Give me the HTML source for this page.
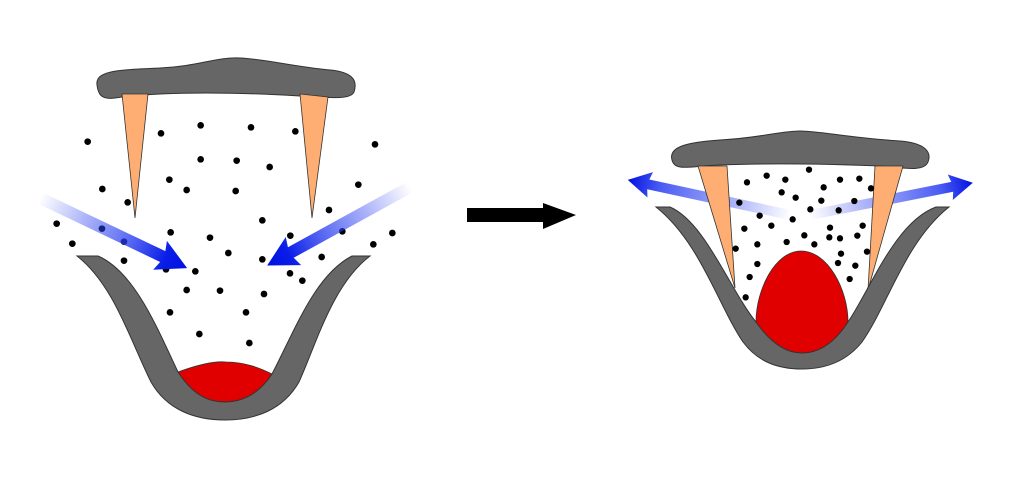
<!DOCTYPE html>
<html><head><meta charset="utf-8"><style>html,body{margin:0;padding:0;background:#fff}svg{display:block}</style></head>
<body>
<svg width="1024" height="477" viewBox="0 0 1024 477" xmlns="http://www.w3.org/2000/svg">
<defs>
<linearGradient id="gA" gradientUnits="userSpaceOnUse" x1="0" y1="0" x2="163" y2="0">
<stop offset="0" stop-color="#2a3ff0" stop-opacity="0"/><stop offset="0.55" stop-color="#2a3ff0" stop-opacity="0.7"/><stop offset="0.85" stop-color="#0a1ee8"/><stop offset="1" stop-color="#0010e0"/></linearGradient>
<linearGradient id="gB" gradientUnits="userSpaceOnUse" x1="0" y1="0" x2="166" y2="0">
<stop offset="0" stop-color="#2a3ff0" stop-opacity="0"/><stop offset="0.3" stop-color="#2a3ff0" stop-opacity="0.35"/><stop offset="0.8" stop-color="#2a3ff0" stop-opacity="0.85"/><stop offset="1" stop-color="#0010e0"/></linearGradient>
</defs>

<!-- LEFT FIGURE -->
<path d="M97,85 C95,70 120,70 160,68 C200,66 215,57 240,58 C265,59 290,66 330,70 C352,72 358,80 354,92 C350,102 320,96 260,94 C200,92 150,93 115,98 C100,100 98,93 97,85 Z" fill="#666" stroke="#333" stroke-width="1"/>
<path d="M122,94 L148,94 L135,218 Z" fill="#ffae73" stroke="#333" stroke-width="0.8"/>
<path d="M300,94 L328,97 L312,218 Z" fill="#ffae73" stroke="#333" stroke-width="0.8"/>
<path d="M178,372 C200,364 215,361 226,362 C245,362 260,368 272,374 C262,392 245,402 225,402 C205,402 188,392 178,372 Z" fill="#e00000" stroke="#333" stroke-width="0.8"/>
<path d="M77,256 L98,256 C135,272 158,330 178,372 C193,395 208,402 225,402 C245,402 260,392 272,374 C295,330 315,275 352,256 L370,256 C332,285 316,345 299,382 C283,410 255,420 225,420 C195,420 167,410 151,382 C130,340 114,285 77,256 Z" fill="#666" stroke="#333" stroke-width="1"/>
<g transform="translate(30,50) scale(0.33333)" fill="#000">
<circle cx="173" cy="275" r="10"/><circle cx="393" cy="250" r="10"/><circle cx="512" cy="226" r="10"/><circle cx="663" cy="232" r="10"/><circle cx="796" cy="244" r="10"/><circle cx="1035" cy="283" r="10"/><circle cx="512" cy="328" r="10"/><circle cx="620" cy="332" r="10"/><circle cx="719" cy="351" r="10"/><circle cx="418" cy="389" r="10"/><circle cx="470" cy="420" r="10"/><circle cx="617" cy="423" r="10"/><circle cx="217" cy="417" r="10"/><circle cx="293" cy="457" r="10"/><circle cx="985" cy="404" r="10"/><circle cx="897" cy="480" r="10"/><circle cx="697" cy="511" r="10"/><circle cx="80" cy="521" r="10"/><circle cx="216" cy="536" r="10"/><circle cx="422" cy="547" r="10"/><circle cx="540" cy="563" r="10"/><circle cx="781" cy="557" r="10"/><circle cx="937" cy="544" r="10"/><circle cx="1087" cy="549" r="10"/><circle cx="127" cy="581" r="10"/><circle cx="282" cy="575" r="10"/><circle cx="1030" cy="583" r="10"/><circle cx="595" cy="609" r="10"/><circle cx="697" cy="628" r="10"/><circle cx="875" cy="621" r="10"/><circle cx="282" cy="632" r="10"/><circle cx="408" cy="658" r="10"/><circle cx="496" cy="664" r="10"/><circle cx="780" cy="670" r="10"/><circle cx="817" cy="692" r="10"/><circle cx="470" cy="720" r="10"/><circle cx="570" cy="722" r="10"/><circle cx="702" cy="732" r="10"/><circle cx="420" cy="787" r="10"/><circle cx="648" cy="787" r="10"/><circle cx="508" cy="852" r="10"/><circle cx="658" cy="879" r="10"/>
</g>
<g transform="translate(40,198) rotate(25.5)"><path d="M0,-6 L136,-6 L133,-16 L163,0 L133,16 L136,6 L0,6 Z" fill="url(#gA)"/></g>
<g transform="translate(410,187) rotate(151.2)"><path d="M0,-6 L136,-6 L133,-16 L163,0 L133,16 L136,6 L0,6 Z" fill="url(#gA)"/></g>

<!-- MIDDLE ARROW -->
<path d="M467,208 L543,208 L543,203 L576,215 L543,229 L543,222 L467,222 Z" fill="#000"/>

<!-- RIGHT FIGURE -->
<path d="M672,160 C668,146 690,142 720,140 C760,138 780,131 800,131 C820,131 850,138 900,141 C925,143 932,152 928,162 C924,172 905,168 880,166 C830,164 770,163 720,165 C690,166 675,172 672,160 Z" fill="#666" stroke="#333" stroke-width="1"/>
<g transform="translate(790,215) rotate(192.2)"><path d="M0,-5 L145,-5 L143,-13 L166,0 L143,13 L145,5 L0,5 Z" fill="url(#gB)"/></g>
<g transform="translate(810,215) rotate(-11.2)"><path d="M0,-5 L145,-5 L143,-13 L166,0 L143,13 L145,5 L0,5 Z" fill="url(#gB)"/></g>
<path d="M698,166 L727,166 L735,288 Z" fill="#ffae73" stroke="#333" stroke-width="0.8"/>
<path d="M875,166 L903,166 L868,290 Z" fill="#ffae73" stroke="#333" stroke-width="0.8"/>
<path d="M756,322 C756,290 775,251 801,251 C828,251 848,290 848,322 C845,342 825,353 802,353 C778,353 758,342 756,322 Z" fill="#e00000" stroke="#333" stroke-width="0.8"/>
<path d="M656,207 L670,207 C705,222 730,290 756,322 C770,342 785,353 802,353 C820,353 835,342 848,322 C870,290 895,222 936,207 L949,207 C905,242 888,305 862,342 C846,362 825,369 802,369 C778,369 758,362 743,342 C718,305 700,242 656,207 Z" fill="#666" stroke="#333" stroke-width="1"/>
<g transform="translate(620,120) scale(0.33333)" fill="#000">
<circle cx="567" cy="149" r="9.5"/><circle cx="440" cy="167" r="9.5"/><circle cx="381" cy="187" r="9.5"/><circle cx="496" cy="179" r="9.5"/><circle cx="660" cy="179" r="9.5"/><circle cx="718" cy="176" r="9.5"/><circle cx="611" cy="202" r="9.5"/><circle cx="753" cy="205" r="9.5"/><circle cx="485" cy="217" r="9.5"/><circle cx="527" cy="233" r="9.5"/><circle cx="604" cy="242" r="9.5"/><circle cx="703" cy="243" r="9.5"/><circle cx="358" cy="248" r="9.5"/><circle cx="571" cy="268" r="9.5"/><circle cx="656" cy="271" r="9.5"/><circle cx="419" cy="287" r="9.5"/><circle cx="518" cy="298" r="9.5"/><circle cx="454" cy="317" r="9.5"/><circle cx="373" cy="326" r="9.5"/><circle cx="630" cy="323" r="9.5"/><circle cx="728" cy="317" r="9.5"/><circle cx="553" cy="346" r="9.5"/><circle cx="628" cy="352" r="9.5"/><circle cx="660" cy="355" r="9.5"/><circle cx="712" cy="347" r="9.5"/><circle cx="500" cy="366" r="9.5"/><circle cx="412" cy="373" r="9.5"/><circle cx="583" cy="373" r="9.5"/><circle cx="347" cy="386" r="9.5"/><circle cx="663" cy="401" r="9.5"/><circle cx="741" cy="395" r="9.5"/><circle cx="412" cy="432" r="9.5"/><circle cx="654" cy="429" r="9.5"/><circle cx="706" cy="437" r="9.5"/><circle cx="389" cy="471" r="9.5"/><circle cx="689" cy="477" r="9.5"/><circle cx="377" cy="532" r="9.5"/>
</g>
</svg>
</body></html>
